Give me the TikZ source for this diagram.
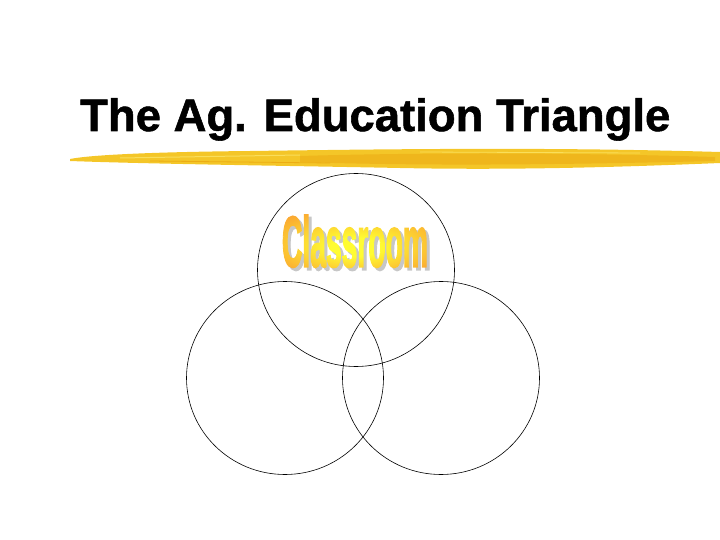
\documentclass[tikz,border=0pt]{standalone}
\usepackage{fontspec}
\setmainfont{Liberation Sans}
\newfontfamily\titlefont[FakeBold=1.2]{Liberation Sans Bold}
\newfontfamily\wordfont[FakeBold=3]{Liberation Sans Bold}
\usetikzlibrary{fadings,shapes.geometric}
\definecolor{brush}{RGB}{244,198,40}
\definecolor{brushdark}{RGB}{236,172,20}
\definecolor{brushlight}{RGB}{250,222,90}
\definecolor{wordorange}{RGB}{250,160,50}
\definecolor{wordyellow}{RGB}{255,252,50}
\pgfdeclareradialshading{wordart}{\pgfpoint{0bp}{-6bp}}{%
  color(0bp)=(wordyellow); color(8bp)=(wordyellow); color(22bp)=(wordorange!55!wordyellow);
  color(34bp)=(wordorange); color(50bp)=(wordorange)}
\newcommand{\classword}{\resizebox{146pt}{52pt}{\wordfont Classroom}}
\begin{tikzfadingfrompicture}[name=classfade]
  \node[text=transparent!0, inner sep=0pt] {\classword};
\end{tikzfadingfrompicture}
\begin{document}
\begin{tikzpicture}[x=1pt,y=-1pt,
  ring/.style={ellipse, draw=black, line width=0.6pt, minimum width=197pt, minimum height=193pt, inner sep=0pt}]
\useasboundingbox (0,0) rectangle (720,540);
% title
\node[inner sep=0pt, anchor=base west] (title) at (80,131) {\resizebox{590pt}{!}{\titlefont The Ag. Education Triangle}};
% brush stroke
\fill[brush] (70,159) .. controls (90,155) and (150,152) .. (250,151)
  .. controls (400,149) and (550,147) .. (720,152)
  -- (720,163) .. controls (600,168) and (500,170) .. (400,168)
  .. controls (300,166) and (150,164) .. (70,161) -- cycle;
\fill[brushdark, opacity=0.6] (300,156) .. controls (400,153) and (550,152) .. (715,157)
  -- (715,161) .. controls (550,165) and (420,166) .. (300,162) -- cycle;
\draw[brushlight, line width=1pt] (120,158) -- (300,155);
\draw[brushlight, line width=0.8pt] (420,152) -- (640,153);
\draw[brushdark, line width=0.8pt] (150,161) -- (330,163);
% circles
\node[ring] (top) at (356,270) {};
\node[ring] (left) at (285,378) {};
\node[ring] (right) at (441,378) {};
% Classroom word art
\node[inner sep=0pt, text=black!22] (shadow) at (358,244) {\classword};
\shade[path fading=classfade, fit fading=false, fading transform={shift={(355,241)}},
  shading=wordart]
  (355-76,241-29) rectangle (355+76,241+29);
\path (355,241) node[inner sep=0pt] (classroom) {\phantom{\classword}};
\end{tikzpicture}
\end{document}
